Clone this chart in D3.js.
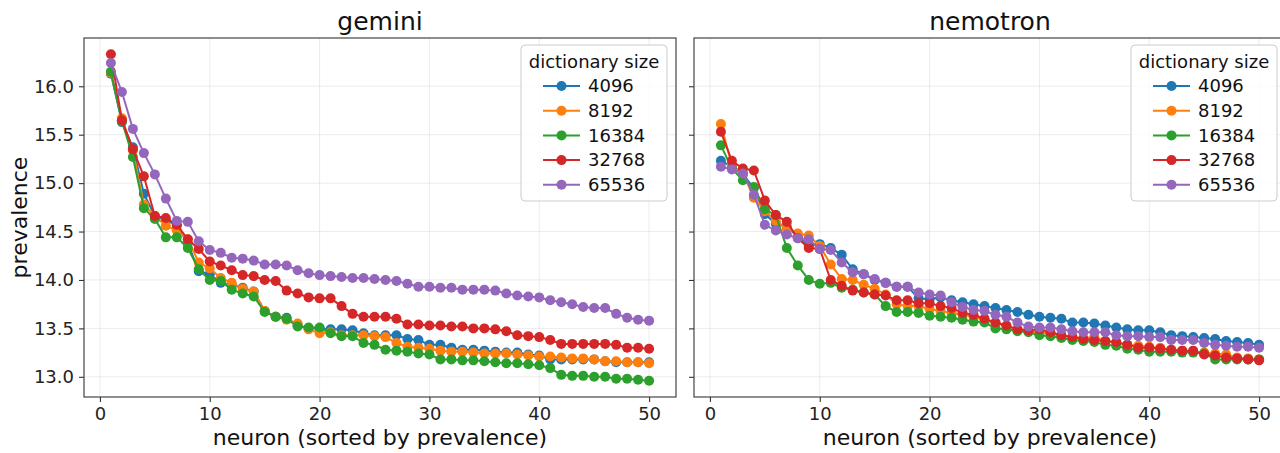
<!DOCTYPE html>
<html>
<head>
<meta charset="utf-8">
<script src="https://cdn.jsdelivr.net/npm/d3@7"></script>
<style>
  body { margin: 0; background: #fff; }
  svg { font-family: "DejaVu Sans", sans-serif; }
</style>
</head>
<body>
<div id="chart"></div>
<script>
// neuron rank on x, prevalence on y
var neuronRank = d3.range(1, 51);
var xTicks = [0, 10, 20, 30, 40, 50];
var yTicks = [13.0, 13.5, 14.0, 14.5, 15.0, 15.5, 16.0];
var dictSizes = ["4096", "8192", "16384", "32768", "65536"];
var panelTitles = ["gemini", "nemotron"];

var gemini4096 = [16.13, 15.63, 15.37, 14.89, 14.66, 14.62, 14.56, 14.38, 14.09, 14.06, 13.97, 13.95, 13.92, 13.88, 13.68, 13.62, 13.61, 13.53, 13.50, 13.50, 13.49, 13.49, 13.48, 13.45, 13.43, 13.43, 13.43, 13.39, 13.38, 13.33, 13.33, 13.30, 13.28, 13.28, 13.27, 13.26, 13.25, 13.25, 13.23, 13.22, 13.18, 13.18, 13.18, 13.18, 13.18, 13.16, 13.15, 13.15, 13.15, 13.15];
var gemini8192 = [16.14, 15.67, 15.34, 14.78, 14.66, 14.56, 14.51, 14.42, 14.18, 14.12, 14.02, 13.97, 13.91, 13.88, 13.68, 13.62, 13.59, 13.55, 13.49, 13.45, 13.46, 13.43, 13.43, 13.43, 13.42, 13.41, 13.35, 13.31, 13.30, 13.29, 13.27, 13.26, 13.26, 13.25, 13.24, 13.24, 13.24, 13.23, 13.22, 13.21, 13.21, 13.20, 13.19, 13.19, 13.18, 13.16, 13.16, 13.15, 13.15, 13.14];
var gemini16384 = [16.15, 15.64, 15.27, 14.74, 14.63, 14.44, 14.44, 14.33, 14.11, 14.00, 13.99, 13.90, 13.86, 13.83, 13.67, 13.62, 13.60, 13.52, 13.51, 13.51, 13.45, 13.42, 13.42, 13.35, 13.33, 13.28, 13.27, 13.26, 13.24, 13.23, 13.18, 13.18, 13.17, 13.17, 13.16, 13.15, 13.14, 13.14, 13.13, 13.12, 13.09, 13.02, 13.01, 13.01, 13.00, 13.00, 12.98, 12.98, 12.97, 12.96];
var gemini32768 = [16.33, 15.65, 15.35, 15.07, 14.66, 14.64, 14.57, 14.42, 14.32, 14.19, 14.15, 14.10, 14.05, 14.04, 14.00, 13.99, 13.89, 13.86, 13.82, 13.81, 13.81, 13.73, 13.65, 13.62, 13.62, 13.62, 13.60, 13.54, 13.54, 13.53, 13.53, 13.52, 13.52, 13.50, 13.50, 13.49, 13.47, 13.43, 13.42, 13.41, 13.38, 13.34, 13.34, 13.34, 13.34, 13.34, 13.33, 13.30, 13.30, 13.29];
var gemini65536 = [16.24, 15.94, 15.56, 15.31, 15.09, 14.84, 14.61, 14.60, 14.40, 14.31, 14.28, 14.23, 14.22, 14.20, 14.16, 14.16, 14.15, 14.10, 14.07, 14.05, 14.04, 14.03, 14.02, 14.02, 14.01, 14.00, 13.99, 13.96, 13.93, 13.93, 13.92, 13.92, 13.90, 13.90, 13.90, 13.89, 13.86, 13.84, 13.83, 13.82, 13.79, 13.77, 13.75, 13.72, 13.71, 13.71, 13.65, 13.61, 13.59, 13.58];

var nemotron4096 = [15.23, 15.17, 15.09, 14.95, 14.68, 14.58, 14.55, 14.45, 14.35, 14.37, 14.33, 14.26, 14.11, 14.06, 14.00, 13.97, 13.93, 13.93, 13.81, 13.80, 13.82, 13.79, 13.77, 13.75, 13.73, 13.71, 13.69, 13.67, 13.64, 13.62, 13.61, 13.60, 13.56, 13.56, 13.55, 13.53, 13.51, 13.49, 13.48, 13.48, 13.46, 13.43, 13.42, 13.41, 13.40, 13.39, 13.37, 13.36, 13.35, 13.33];
var nemotron8192 = [15.61, 15.18, 15.10, 14.85, 14.71, 14.61, 14.53, 14.48, 14.46, 14.35, 14.16, 14.01, 14.00, 13.95, 13.91, 13.85, 13.75, 13.73, 13.73, 13.70, 13.68, 13.66, 13.64, 13.62, 13.59, 13.56, 13.52, 13.49, 13.47, 13.46, 13.45, 13.42, 13.41, 13.40, 13.41, 13.37, 13.35, 13.33, 13.32, 13.31, 13.30, 13.28, 13.27, 13.26, 13.25, 13.24, 13.23, 13.20, 13.19, 13.18];
var nemotron16384 = [15.39, 15.15, 15.03, 14.96, 14.73, 14.67, 14.33, 14.15, 14.00, 13.96, 13.97, 13.92, 13.90, 13.87, 13.85, 13.73, 13.67, 13.67, 13.66, 13.63, 13.62, 13.61, 13.59, 13.57, 13.56, 13.50, 13.49, 13.47, 13.46, 13.43, 13.42, 13.40, 13.38, 13.37, 13.36, 13.33, 13.32, 13.29, 13.28, 13.26, 13.26, 13.26, 13.25, 13.25, 13.24, 13.18, 13.18, 13.18, 13.18, 13.18];
var nemotron32768 = [15.53, 15.23, 15.15, 15.13, 14.82, 14.67, 14.60, 14.43, 14.33, 14.32, 14.00, 13.94, 13.89, 13.87, 13.85, 13.84, 13.79, 13.79, 13.76, 13.76, 13.73, 13.71, 13.66, 13.64, 13.60, 13.56, 13.53, 13.49, 13.48, 13.49, 13.46, 13.43, 13.41, 13.39, 13.38, 13.37, 13.36, 13.33, 13.30, 13.30, 13.29, 13.28, 13.27, 13.27, 13.23, 13.22, 13.20, 13.19, 13.18, 13.17];
var nemotron65536 = [15.17, 15.14, 15.10, 14.88, 14.57, 14.51, 14.47, 14.43, 14.42, 14.32, 14.31, 14.18, 14.08, 14.06, 14.01, 13.97, 13.93, 13.93, 13.87, 13.85, 13.84, 13.77, 13.72, 13.69, 13.68, 13.64, 13.62, 13.56, 13.52, 13.51, 13.51, 13.49, 13.47, 13.46, 13.46, 13.46, 13.43, 13.42, 13.42, 13.41, 13.41, 13.38, 13.38, 13.38, 13.35, 13.33, 13.32, 13.31, 13.31, 13.30];

var colors = ["#1f77b4", "#ff7f0e", "#2ca02c", "#d62728", "#9467bd"];

var panels = [
    [gemini4096, gemini8192, gemini16384, gemini32768, gemini65536],
    [nemotron4096, nemotron8192, nemotron16384, nemotron32768, nemotron65536]
];

var W = 1280, H = 453;
var top_ = 38, bottom = 397;
var axLeft = [84, 694], axW = 592;

var svg = d3.select("#chart").append("svg")
    .attr("width", W)
    .attr("height", H);

// shared y like sharey=True, with matplotlib's 5% margins
var allVals = d3.merge(panels.map(function(p) { return d3.merge(p); }));
var yMin = d3.min(allVals), yMax = d3.max(allVals);
var yPad = (yMax - yMin) * 0.05;
var y = d3.scaleLinear().domain([yMin - yPad, yMax + yPad]).range([bottom, top_]);

var xPad = (50 - 1) * 0.05;

panels.forEach(function(series, pi) {
    var x0 = axLeft[pi];
    var x = d3.scaleLinear().domain([1 - xPad, 50 + xPad]).range([x0, x0 + axW]);
    var g = svg.append("g");

    // grid
    g.selectAll(".gx").data(xTicks).enter().append("line")
        .attr("x1", function(d) { return x(d); }).attr("x2", function(d) { return x(d); })
        .attr("y1", top_).attr("y2", bottom)
        .attr("stroke", "#b0b0b0").attr("stroke-opacity", 0.3).attr("stroke-width", 0.8);
    g.selectAll(".gy").data(yTicks).enter().append("line")
        .attr("x1", x0).attr("x2", x0 + axW)
        .attr("y1", function(d) { return y(d); }).attr("y2", function(d) { return y(d); })
        .attr("stroke", "#b0b0b0").attr("stroke-opacity", 0.3).attr("stroke-width", 0.8);

    // lines + markers, series by series
    var line = d3.line()
        .x(function(d, i) { return x(neuronRank[i]); })
        .y(function(d) { return y(d); });
    series.forEach(function(vals, si) {
        g.append("path")
            .attr("d", line(vals))
            .attr("fill", "none")
            .attr("stroke", colors[si])
            .attr("stroke-width", 2);
        g.selectAll(".m" + si).data(vals).enter().append("circle")
            .attr("cx", function(d, i) { return x(neuronRank[i]); })
            .attr("cy", function(d) { return y(d); })
            .attr("r", 5)
            .attr("fill", colors[si]);
    });

    // frame
    g.append("rect")
        .attr("x", x0).attr("y", top_)
        .attr("width", axW).attr("height", bottom - top_)
        .attr("fill", "none").attr("stroke", "#333").attr("stroke-width", 1.1);

    // x axis
    var xa = g.append("g").attr("transform", "translate(0," + bottom + ")")
        .call(d3.axisBottom(x).tickValues(xTicks).tickFormat(d3.format("d"))
            .tickSizeInner(5).tickSizeOuter(0).tickPadding(5));
    xa.select(".domain").remove();
    xa.selectAll("line").attr("stroke", "#333").attr("stroke-width", 1.1);
    xa.selectAll("text").attr("font-size", 18).attr("fill", "#222")
        .attr("font-family", "DejaVu Sans");

    // y axis (labels only on the first panel)
    var ya = g.append("g").attr("transform", "translate(" + x0 + ",0)")
        .call(d3.axisLeft(y).tickValues(yTicks)
            .tickFormat(pi === 0 ? d3.format(".1f") : function() { return ""; })
            .tickSizeInner(5).tickSizeOuter(0).tickPadding(5));
    ya.select(".domain").remove();
    ya.selectAll("line").attr("stroke", "#333").attr("stroke-width", 1.1);
    ya.selectAll("text").attr("font-size", 18).attr("fill", "#222")
        .attr("font-family", "DejaVu Sans");

    // titles
    g.append("text")
        .attr("x", x0 + axW / 2).attr("y", 30)
        .attr("text-anchor", "middle").attr("font-size", 25).attr("fill", "#111")
        .text(panelTitles[pi]);
    g.append("text")
        .attr("x", x0 + axW / 2).attr("y", 445)
        .attr("text-anchor", "middle").attr("font-size", 22).attr("fill", "#111")
        .text("neuron (sorted by prevalence)");

    // legend
    var lx = x0 + axW - 155, ly = 45;
    var lg = g.append("g").attr("transform", "translate(" + lx + "," + ly + ")");
    lg.append("rect")
        .attr("width", 146).attr("height", 156).attr("rx", 4)
        .attr("fill", "#fff").attr("fill-opacity", 0.8)
        .attr("stroke", "#ccc").attr("stroke-width", 1);
    lg.append("text")
        .attr("x", 73).attr("y", 23)
        .attr("text-anchor", "middle").attr("font-size", 18).attr("fill", "#111")
        .text("dictionary size");
    dictSizes.forEach(function(name, si) {
        var ry = 41 + si * 24.7;
        lg.append("line")
            .attr("x1", 22).attr("x2", 59).attr("y1", ry).attr("y2", ry)
            .attr("stroke", colors[si]).attr("stroke-width", 2);
        lg.append("circle")
            .attr("cx", 40.5).attr("cy", ry).attr("r", 5).attr("fill", colors[si]);
        lg.append("text")
            .attr("x", 67).attr("y", ry).attr("dy", "0.35em")
            .attr("font-size", 18).attr("fill", "#111")
            .text(name);
    });
});

svg.append("text")
    .attr("transform", "translate(27," + ((top_ + bottom) / 2) + ") rotate(-90)")
    .attr("text-anchor", "middle").attr("font-size", 22).attr("fill", "#111")
    .text("prevalence");
</script>
</body>
</html>
